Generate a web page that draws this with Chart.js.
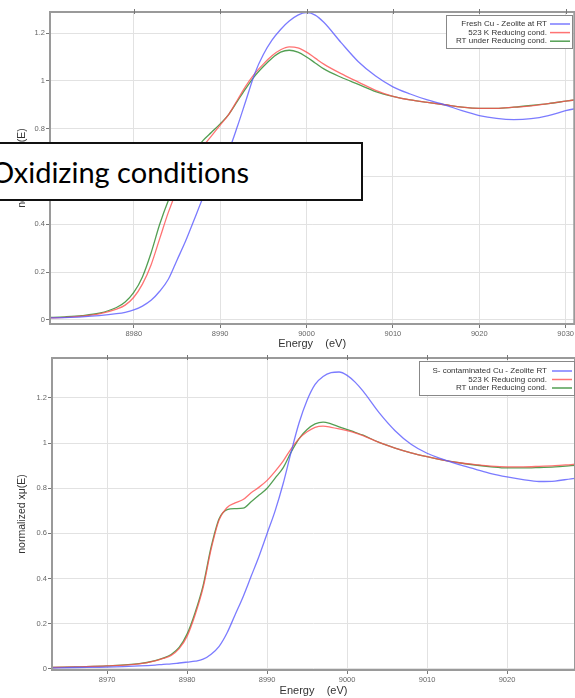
<!DOCTYPE html>
<html>
<head>
<meta charset="utf-8">
<script src="https://cdn.jsdelivr.net/npm/chart.js@4.4.1/dist/chart.umd.min.js"></script>
<style>
  body { margin: 0; background: #fff; width: 575px; height: 698px; overflow: hidden; position: relative; }
  canvas { position: absolute; left: 0; }
  #topChart { top: 0; }
  #botChart { top: 350px; }
  #tag {
    position: absolute; left: -3px; top: 142px; width: 366px; height: 59px;
    box-sizing: border-box; border: 2px solid #111; background: #fff;
    font: 29px Lato, "Open Sans", sans-serif; line-height: 29px; color: #000;
    font-variant-ligatures: none;
    padding-top: 13px; white-space: nowrap; overflow: hidden; text-indent: -8px;
  }
</style>
</head>
<body>
<canvas id="topChart" width="575" height="350"></canvas>
<canvas id="botChart" width="575" height="348"></canvas>
<div id="tag">Oxidizing conditions</div>
<script>
// --- top panel: oxidizing conditions ---
const energyTop = [8970, 8972, 8974, 8976, 8978, 8979, 8980, 8981, 8982, 8983, 8984, 8985, 8986, 8987, 8988, 8989,
  8990, 8991, 8992, 8993, 8994, 8995, 8996, 8997, 8998, 8999, 9000, 9001, 9002, 9004, 9006, 9008, 9010, 9012,
  9014, 9016, 9018, 9020, 9022, 9024, 9026, 9028, 9030, 9032];
const freshRT = [0.008, 0.010, 0.013, 0.018, 0.026, 0.032, 0.042, 0.058, 0.082, 0.12, 0.17, 0.25, 0.33, 0.42, 0.51, 0.58,
  0.65, 0.71, 0.81, 0.92, 1.03, 1.11, 1.17, 1.215, 1.25, 1.275, 1.285, 1.275, 1.245, 1.16, 1.08, 1.02, 0.975, 0.945,
  0.92, 0.90, 0.875, 0.855, 0.843, 0.838, 0.842, 0.855, 0.875, 0.89];
const red523Top = [0.008, 0.011, 0.016, 0.025, 0.045, 0.062, 0.095, 0.15, 0.23, 0.34, 0.45, 0.54, 0.61, 0.67, 0.725, 0.77,
  0.815, 0.86, 0.92, 0.98, 1.03, 1.07, 1.105, 1.13, 1.142, 1.138, 1.12, 1.095, 1.07, 1.03, 0.995, 0.96, 0.935, 0.92,
  0.91, 0.90, 0.89, 0.885, 0.885, 0.89, 0.895, 0.905, 0.915, 0.925];
const redRTTop = [0.010, 0.013, 0.018, 0.028, 0.052, 0.075, 0.115, 0.18, 0.28, 0.40, 0.50, 0.58, 0.64, 0.70, 0.75, 0.785,
  0.82, 0.86, 0.915, 0.97, 1.02, 1.06, 1.095, 1.12, 1.128, 1.12, 1.10, 1.075, 1.05, 1.015, 0.985, 0.955, 0.935, 0.92,
  0.91, 0.90, 0.89, 0.885, 0.885, 0.89, 0.897, 0.905, 0.915, 0.925];
const labelsTop = ["Fresh Cu - Zeolite at RT", "523 K Reducing cond.", "RT under Reducing cond."];
const xTicksTop = [8980, 8990, 9000, 9010, 9020, 9030];

// --- bottom panel: S-contaminated ---
const energyBot = [8963, 8966, 8970, 8974, 8976, 8977, 8978, 8979, 8980, 8981, 8982, 8983, 8984, 8985, 8986, 8987,
  8988, 8989, 8990, 8991, 8992, 8993, 8994, 8995, 8996, 8997, 8998, 8999, 9000, 9001, 9002, 9004, 9006, 9008,
  9010, 9012, 9014, 9016, 9018, 9020, 9022, 9024, 9026, 9028, 9030];
const sContRT = [0.004, 0.006, 0.008, 0.013, 0.017, 0.020, 0.022, 0.026, 0.030, 0.034, 0.043, 0.065, 0.10, 0.16, 0.24, 0.32,
  0.41, 0.50, 0.60, 0.70, 0.82, 0.96, 1.09, 1.19, 1.26, 1.295, 1.312, 1.315, 1.30, 1.27, 1.23, 1.135, 1.055, 0.995,
  0.955, 0.928, 0.905, 0.885, 0.865, 0.85, 0.838, 0.83, 0.832, 0.842, 0.85];
const red523Bot = [0.006, 0.009, 0.013, 0.022, 0.035, 0.046, 0.06, 0.09, 0.145, 0.24, 0.36, 0.53, 0.66, 0.715, 0.735, 0.75,
  0.78, 0.805, 0.835, 0.875, 0.92, 0.975, 1.02, 1.05, 1.07, 1.075, 1.07, 1.063, 1.055, 1.045, 1.033, 1.003, 0.978, 0.957,
  0.94, 0.925, 0.913, 0.905, 0.898, 0.895, 0.895, 0.897, 0.90, 0.905, 0.91];
const redRTBot = [0.006, 0.009, 0.013, 0.023, 0.037, 0.048, 0.064, 0.095, 0.155, 0.25, 0.37, 0.54, 0.665, 0.705, 0.71, 0.712,
  0.74, 0.77, 0.80, 0.845, 0.89, 0.96, 1.02, 1.06, 1.085, 1.093, 1.085, 1.072, 1.06, 1.048, 1.035, 1.003, 0.978, 0.957,
  0.94, 0.925, 0.913, 0.903, 0.895, 0.89, 0.89, 0.892, 0.895, 0.90, 0.905];
const labelsBot = ["S- contaminated Cu - Zeolite RT", "523 K Reducing cond.", "RT under Reducing cond."];
const xTicksBot = [8970, 8980, 8990, 9000, 9010, 9020];

const yTicks = [0, 0.2, 0.4, 0.6, 0.8, 1, 1.2];
const colors = ["rgba(90,90,255,0.8)", "rgba(255,80,80,0.8)", "rgba(40,135,40,0.8)"];
const font = '"Liberation Sans", Arial, sans-serif';

const frame = {
  id: "frame",
  afterDatasetsDraw(chart) {
    const { left, top, right, bottom } = chart.chartArea;
    const c = chart.ctx;
    c.save();
    c.strokeStyle = "#9a9a9a";
    c.lineWidth = 2;
    c.strokeRect(left, top, right - left, bottom - top);
    c.strokeStyle = "#777";
    c.lineWidth = 1;
    chart.scales.x.ticks.forEach(t => {
      const x = Math.round(chart.scales.x.getPixelForValue(t.value)) + 0.5;
      c.beginPath(); c.moveTo(x, top - 3); c.lineTo(x, top + 2); c.stroke();
    });
    c.restore();
  }
};

const legendBox = {
  id: "legendBox",
  afterDraw(chart, args, o) {
    const c = chart.ctx;
    c.save();
    c.fillStyle = "#fff";
    c.fillRect(o.x, o.y, o.w, o.h);
    c.strokeStyle = "#888";
    c.lineWidth = 1;
    c.strokeRect(o.x + 0.5, o.y + 0.5, o.w, o.h);
    c.font = "8px " + font;
    c.textAlign = "right";
    c.textBaseline = "middle";
    chart.data.datasets.forEach((ds, i) => {
      const y = o.y + o.first + i * o.step;
      c.fillStyle = "#333";
      c.fillText(ds.label, o.textRight, y);
      c.strokeStyle = ds.borderColor;
      c.lineWidth = 1.5;
      c.beginPath(); c.moveTo(o.lineX0, y); c.lineTo(o.lineX1, y); c.stroke();
    });
    c.restore();
  }
};

function makeChart(id, energy, series, labels, xRange, yRange, xTicks, sizes, legend) {
  const ctx = document.getElementById(id);
  return new Chart(ctx.getContext("2d"), {
    type: "scatter",
    data: {
      datasets: series.map((vals, i) => ({
        label: labels[i],
        data: energy.map((e, j) => ({ x: e, y: vals[j] })),
        showLine: true,
        borderColor: colors[i],
        borderWidth: 1.3,
        pointRadius: 0,
        cubicInterpolationMode: "monotone"
      }))
    },
    options: {
      responsive: false,
      animation: false,
      devicePixelRatio: 1,
      layout: { padding: { top: sizes.top, left: 0, right: 0, bottom: 0 } },
      plugins: {
        legend: { display: false },
        tooltip: { enabled: false },
        legendBox: legend
      },
      scales: {
        x: {
          type: "linear", min: xRange[0], max: xRange[1],
          afterBuildTicks: ax => { ax.ticks = xTicks.map(v => ({ value: v })); },
          afterFit: ax => { ax.height = sizes.xh; },
          ticks: { font: { size: 7.5, family: font }, color: "#666", padding: 1, maxRotation: 0, callback: v => String(v) },
          grid: { color: "#e2e2e2", tickLength: 4, tickColor: "#777" },
          border: { display: false },
          title: { display: true, text: "Energy    (eV)", color: "#333", font: { size: 11, family: font }, padding: { top: 0, bottom: sizes.tpad } }
        },
        y: {
          min: yRange[0], max: yRange[1],
          afterBuildTicks: ax => { ax.ticks = yTicks.map(v => ({ value: v })); },
          afterFit: ax => { ax.width = sizes.yw; },
          ticks: { font: { size: 7.5, family: font }, color: "#666", padding: 1, callback: v => String(v) },
          grid: { color: "#e2e2e2", tickLength: 4, tickColor: "#777" },
          border: { display: false },
          title: { display: true, text: "normalized xμ(E)", color: "#333", font: { size: 10.5, family: font }, padding: { top: 16, bottom: 0 } }
        }
      }
    },
    plugins: [frame, legendBox]
  });
}

makeChart("topChart", energyTop, [freshRT, red523Top, redRTTop], labelsTop,
  [8970.3, 9031], [-0.017, 1.288], xTicksTop,
  { top: 12, xh: 26, yw: 50, tpad: -1 },
  { x: 446, y: 15, w: 126, h: 33, first: 9, step: 8.6, textRight: 547, lineX0: 550, lineX1: 570 });

makeChart("botChart", energyBot, [sContRT, red523Bot, redRTBot], labelsBot,
  [8963.1, 9028.5], [-0.005, 1.377], xTicksBot,
  { top: 8, xh: 28, yw: 52, tpad: 0 },
  { x: 419, y: 11, w: 155, h: 34, first: 10, step: 8.5, textRight: 547, lineX0: 552, lineX1: 572 });
</script>
</body>
</html>
